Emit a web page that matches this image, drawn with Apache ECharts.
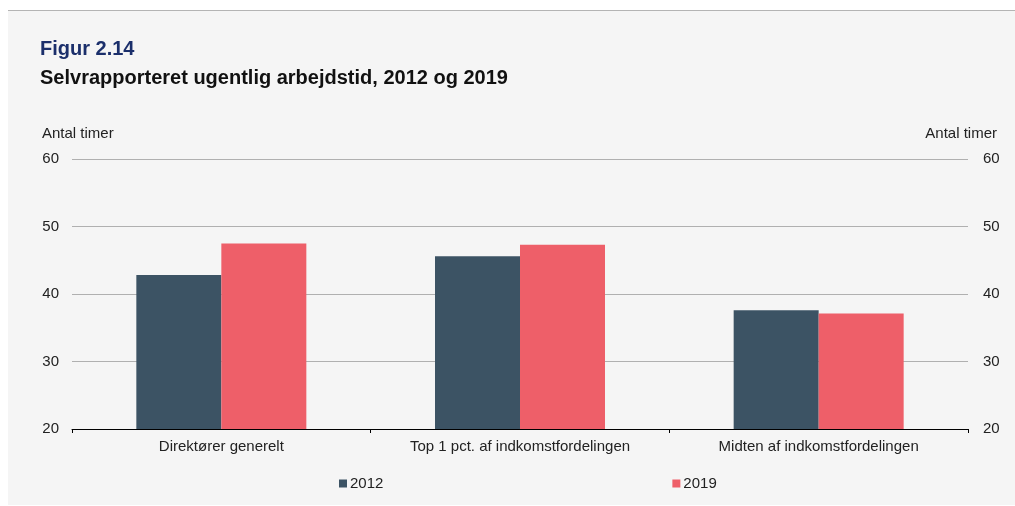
<!DOCTYPE html>
<html>
<head>
<meta charset="utf-8">
<script src="https://cdn.jsdelivr.net/npm/echarts@6/dist/echarts.min.js"></script>
<style>
  html, body { margin: 0; padding: 0; background: #ffffff; }
  #panel { position: absolute; left: 8px; top: 10px; width: 1007px; height: 494px; background: #f5f5f5; border-top: 1px solid #b4b4b4; }
  #chart { position: absolute; left: 0; top: 0; width: 1015px; height: 506px; }
</style>
</head>
<body>
<div id="panel"></div>
<div id="chart"></div>
<script>
const categories = ['Direktører generelt', 'Top 1 pct. af indkomstfordelingen', 'Midten af indkomstfordelingen'];
const values2012 = [42.8, 45.6, 37.6];
const values2019 = [47.5, 47.3, 37.1];
const seriesNames = ['2012', '2019'];

const font = 'Liberation Sans, Arial, sans-serif';
const myChart = echarts.init(document.getElementById('chart'));

const yAxisBase = {
  type: 'value',
  min: 20,
  max: 60,
  interval: 10,
  axisLine: { show: false },
  axisTick: { show: false },
  axisLabel: { color: '#222', fontSize: 15, fontFamily: font, padding: [2, 0, 0, 0] },
  splitLine: { lineStyle: { color: '#b0b0b0', width: 1 } }
};

const option = {
  animation: false,
  textStyle: { fontFamily: font },
  graphic: [
    { type: 'text', left: 40, top: 39, style: { text: 'Figur 2.14', font: 'bold 20px ' + font, fill: '#1b2f6b' } },
    { type: 'text', left: 40, top: 68, style: { text: 'Selvrapporteret ugentlig arbejdstid, 2012 og 2019', font: 'bold 20px ' + font, fill: '#111' } },
    { type: 'text', left: 42, top: 126, style: { text: 'Antal timer', font: '15px ' + font, fill: '#222' } },
    { type: 'text', right: 18, top: 126, style: { text: 'Antal timer', font: '15px ' + font, fill: '#222', align: 'right' } }
  ],
  legend: {
    data: seriesNames,
    left: 334,
    top: 471,
    itemWidth: 8,
    itemHeight: 8,
    itemGap: 289,
    icon: 'rect',
    textStyle: { color: '#222', fontSize: 15, fontFamily: font, padding: [0, 0, 0, -2] }
  },
  grid: { left: 72, right: 47, top: 159, bottom: 77 },
  xAxis: {
    type: 'category',
    data: categories,
    axisLine: { lineStyle: { color: '#000', width: 1 } },
    axisTick: { show: true, length: 4, lineStyle: { color: '#000' } },
    axisLabel: { color: '#222', fontSize: 15, fontFamily: font, margin: 10, interval: 0 }
  },
  yAxis: [
    Object.assign({}, yAxisBase, { position: 'left', axisLabel: Object.assign({}, yAxisBase.axisLabel, { margin: 13 }) }),
    Object.assign({}, yAxisBase, { position: 'right', splitLine: { show: false }, axisLabel: Object.assign({}, yAxisBase.axisLabel, { margin: 15 }) })
  ],
  series: [
    {
      name: seriesNames[0],
      type: 'bar',
      data: values2012,
      barWidth: 85,
      barGap: '0%',
      itemStyle: { color: '#3c5364' }
    },
    {
      name: seriesNames[1],
      type: 'bar',
      data: values2019,
      barWidth: 85,
      barGap: '0%',
      itemStyle: { color: '#ee5f69' }
    }
  ]
};

myChart.setOption(option);
</script>
</body>
</html>
